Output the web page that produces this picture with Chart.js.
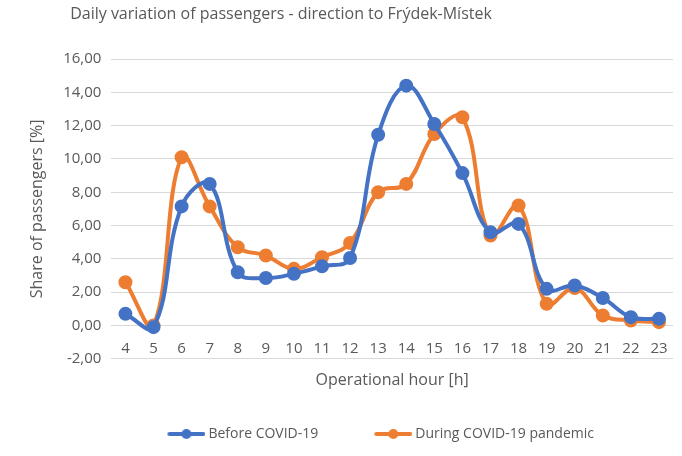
<!DOCTYPE html>
<html>
<head>
<meta charset="utf-8">
<script src="https://cdn.jsdelivr.net/npm/chart.js@4.4.0/dist/chart.umd.min.js"></script>
<style>
  html, body { margin: 0; padding: 0; background: #fff; }
  #wrap { width: 682px; height: 456px; }
</style>
</head>
<body>
<div id="wrap"><canvas id="passengerChart" width="682" height="456"></canvas></div>
<script>
// hours of operation
const hours = ['4', '5', '6', '7', '8', '9', '10', '11', '12', '13', '14', '15', '16', '17', '18', '19', '20', '21', '22', '23'];
// share of passengers [%]
const beforeCovid = [0.7, -0.1, 7.15, 8.5, 3.2, 2.85, 3.1, 3.55, 4.05, 11.45, 14.4, 12.1, 9.15, 5.6, 6.1, 2.2, 2.4, 1.65, 0.5, 0.4];
const duringCovid = [2.6, 0.0, 10.1, 7.15, 4.7, 4.2, 3.4, 4.1, 4.95, 8.0, 8.5, 11.5, 12.5, 5.4, 7.2, 1.3, 2.25, 0.6, 0.3, 0.2];
const seriesNames = ['Before COVID-19', 'During COVID-19 pandemic'];
const chartTitle = 'Daily variation of passengers - direction to Frýdek-Místek';

const blue = '#4472C4';
const orange = '#ED7D31';
const textColor = '#595959';
const fontFamily = '"Open Sans", "Liberation Sans", sans-serif';

// legend marker: line with a dot, sitting at the right end of a wider box
// (the empty left part gives the gap between the two legend entries)
const markerBox = 73;
function legendMarker(color) {
  const c = document.createElement('canvas');
  c.width = markerBox + 8; c.height = 12;   // overhangs the box a little to the right
  const g = c.getContext('2d');
  const x0 = c.width - 38;
  g.strokeStyle = color;
  g.lineWidth = 4;
  g.lineCap = 'round';
  g.beginPath(); g.moveTo(x0 + 2, 6); g.lineTo(x0 + 36, 6); g.stroke();
  g.fillStyle = color;
  g.beginPath(); g.arc(x0 + 19, 6, 5, 0, Math.PI * 2); g.fill();
  return c;
}

// title drawn by hand, Excel put it left of centre
const titlePlugin = {
  id: 'leftTitle',
  afterDraw(chart) {
    const ctx = chart.ctx;
    ctx.save();
    ctx.font = '16px ' + fontFamily;
    ctx.fillStyle = textColor;
    ctx.textAlign = 'center';
    ctx.textBaseline = 'middle';
    ctx.fillText(chartTitle, 281, 14);
    ctx.restore();
  }
};

const ctx = document.getElementById('passengerChart').getContext('2d');
const chart = new Chart(ctx, {
  type: 'line',
  data: {
    labels: hours,
    datasets: [
      {
        label: seriesNames[0],
        data: beforeCovid,
        borderColor: blue,
        backgroundColor: blue,
        borderWidth: 4,
        pointRadius: 5,
        pointHoverRadius: 5,
        tension: 0.4,
      },
      {
        label: seriesNames[1],
        data: duringCovid,
        borderColor: orange,
        backgroundColor: orange,
        borderWidth: 4,
        pointRadius: 5,
        pointHoverRadius: 5,
        tension: 0.4,
      },
    ],
  },
  options: {
    responsive: false,
    animation: false,
    layout: { padding: { top: 59, left: 24, right: 2, bottom: 5 } },
    plugins: {
      title: { display: false },
      tooltip: { enabled: false },
      legend: {
        position: 'bottom',
        fullSize: false,
        align: 'start',
        labels: {
          usePointStyle: true,
          pointStyleWidth: markerBox,
          color: textColor,
          font: { family: fontFamily, size: 14 },
          padding: 17,
          generateLabels(ch) {
            return ch.data.datasets.map((ds, i) => ({
              text: ds.label,
              fillStyle: ds.borderColor,
              strokeStyle: ds.borderColor,
              lineWidth: 0,
              pointStyle: legendMarker(ds.borderColor),
              fontColor: textColor,
              hidden: false,
              datasetIndex: i,
            }));
          },
        },
      },
    },
    scales: {
      x: {
        offset: true,
        grid: { display: false, drawTicks: false },
        border: { display: false },
        ticks: { display: false },
        title: {
          display: true,
          text: 'Operational hour [h]',
          color: textColor,
          font: { family: fontFamily, size: 16 },
          padding: { top: 12, bottom: 20 },
        },
      },
      // hour labels sit on the zero line, as in Excel
      xLabels: {
        type: 'category',
        position: { y: 0 },
        offset: true,
        grid: { display: false, drawTicks: false },
        border: { display: false },
        ticks: {
          color: textColor,
          font: { family: fontFamily, size: 15 },
          padding: 14,
          maxRotation: 0,
          autoSkip: false,
        },
      },
      y: {
        min: -2,
        max: 16,
        ticks: {
          stepSize: 2,
          color: textColor,
          font: { family: fontFamily, size: 15 },
          padding: 10,
          callback: v => v.toFixed(2).replace('.', ','),
        },
        grid: { color: '#d9d9d9', lineWidth: 1, drawTicks: false },
        border: { display: false },
        title: {
          display: true,
          text: 'Share of passengers [%]',
          color: textColor,
          font: { family: fontFamily, size: 16 },
          padding: { bottom: 6 },
        },
      },
    },
  },
  plugins: [titlePlugin],
});
</script>
</body>
</html>
